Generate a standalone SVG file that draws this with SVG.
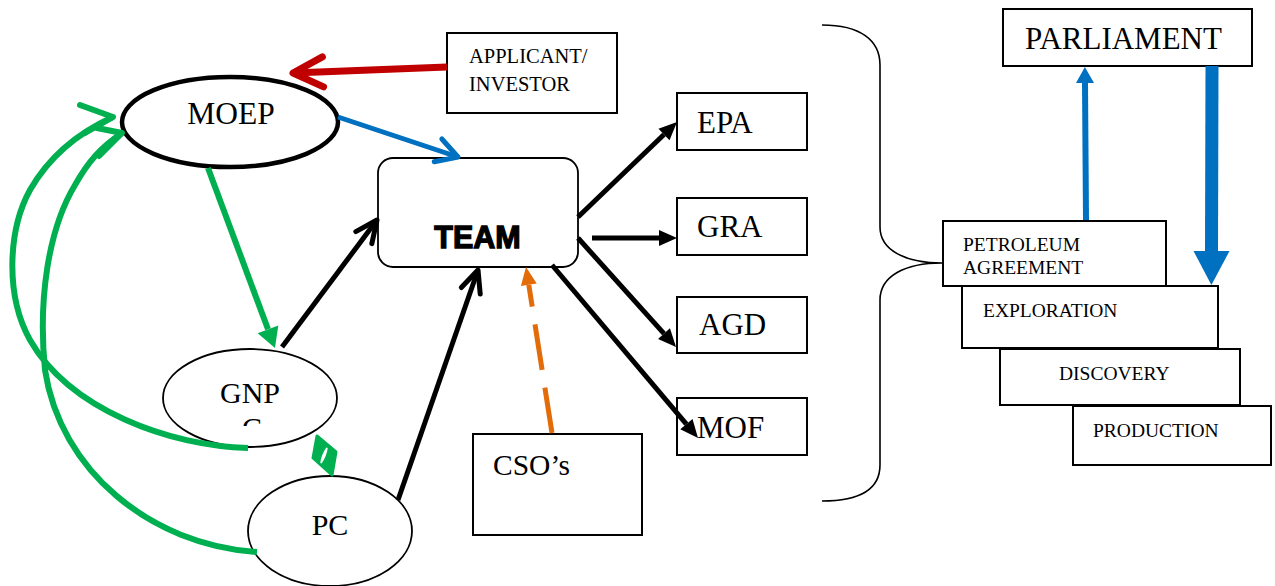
<svg xmlns="http://www.w3.org/2000/svg" width="1275" height="586" viewBox="0 0 1275 586">
<style>
.serif{font-family:"Liberation Serif","Times New Roman",serif;fill:#000}
.box{fill:#fff;stroke:#000;stroke-width:2}
.ell{fill:#fff;stroke:#000;stroke-width:1.8}
.blk{fill:none;stroke:#000;stroke-width:5}
.grn{fill:none;stroke:#00B050;stroke-width:6}
</style>
<defs>
<marker id="chevBlack" markerUnits="userSpaceOnUse" markerWidth="1" markerHeight="1" orient="auto" overflow="visible">
<path d="M-22,-10 L0,0 L-22,10" fill="none" stroke="#000" stroke-width="5" stroke-linecap="round" stroke-linejoin="round"/>
</marker>
<marker id="chevRed" markerUnits="userSpaceOnUse" markerWidth="1" markerHeight="1" orient="auto" overflow="visible">
<path d="M-30,-15 L0,0 L-30,15" fill="none" stroke="#C00000" stroke-width="7" stroke-linecap="round" stroke-linejoin="round"/>
</marker>
<marker id="chevBlue" markerUnits="userSpaceOnUse" markerWidth="1" markerHeight="1" orient="auto" overflow="visible">
<path d="M-21,-12 L0,0 L-21,12" fill="none" stroke="#0070C0" stroke-width="5" stroke-linecap="round" stroke-linejoin="round"/>
</marker>
<marker id="triBlack" markerUnits="userSpaceOnUse" markerWidth="1" markerHeight="1" orient="auto" overflow="visible">
<path d="M0,-8 L18,0 L0,8 Z" fill="#000"/>
</marker>
<marker id="triOrange" markerUnits="userSpaceOnUse" markerWidth="1" markerHeight="1" orient="auto" overflow="visible">
<path d="M0,-8 L18,0 L0,8 Z" fill="#E36C0A"/>
</marker>
<marker id="triGreen" markerUnits="userSpaceOnUse" markerWidth="1" markerHeight="1" orient="auto" overflow="visible">
<path d="M0,-11 L20,0 L0,11 Z" fill="#00B050"/>
</marker>
<marker id="triBlueS" markerUnits="userSpaceOnUse" markerWidth="1" markerHeight="1" orient="auto" overflow="visible">
<path d="M0,-9 L16,0 L0,9 Z" fill="#0070C0"/>
</marker>
<marker id="triBlueL" markerUnits="userSpaceOnUse" markerWidth="1" markerHeight="1" orient="auto" overflow="visible">
<path d="M0,-18 L34,0 L0,18 Z" fill="#0070C0"/>
</marker>
<clipPath id="gnpcClip"><rect x="220" y="405" width="60" height="21"/></clipPath>
</defs>

<g id="moep">
<ellipse cx="230" cy="122" rx="108" ry="45" fill="#fff" stroke="#000" stroke-width="4.5"/>
<text class="serif" x="231" y="124" font-size="31.5" text-anchor="middle">MOEP</text>
</g>
<g id="applicant">
<rect class="box" x="447" y="33" width="170" height="80"/>
<text class="serif" x="469" y="63" font-size="20.5">APPLICANT/</text>
<text class="serif" x="469" y="91" font-size="20.5">INVESTOR</text>
</g>
<g id="team">
<rect x="378" y="158" width="200" height="109" rx="15" ry="15" fill="#fff" stroke="#000" stroke-width="1.8"/>
<text x="477.5" y="248" font-family="'Liberation Sans',Arial,sans-serif" font-weight="bold" font-size="30.5" text-anchor="middle" stroke="#000" stroke-width="1.3">TEAM</text>
</g>
<g id="epa">
<rect class="box" x="677" y="93" width="130" height="57"/>
<text class="serif" x="697" y="133" font-size="31">EPA</text>
</g>
<g id="gra">
<rect class="box" x="677" y="198" width="130" height="57"/>
<text class="serif" x="697" y="237" font-size="31">GRA</text>
</g>
<g id="agd">
<rect class="box" x="677" y="297" width="130" height="56"/>
<text class="serif" x="699" y="335" font-size="31">AGD</text>
</g>
<g id="mof">
<rect class="box" x="677" y="398" width="130" height="57"/>
<text class="serif" x="697" y="438" font-size="31">MOF</text>
</g>
<g id="cso">
<rect class="box" x="473" y="434" width="169" height="101"/>
<text class="serif" x="493" y="475" font-size="29.5">CSO’s</text>
</g>
<g id="gnpc">
<ellipse class="ell" cx="250" cy="398" rx="87" ry="49"/>
<text class="serif" x="250" y="403" font-size="30" text-anchor="middle">GNP</text>
<text class="serif" x="252" y="438" font-size="30" text-anchor="middle" clip-path="url(#gnpcClip)">C</text>
</g>
<g id="pc">
<ellipse class="ell" cx="330" cy="531" rx="82" ry="55"/>
<text class="serif" x="330" y="535" font-size="30" text-anchor="middle">PC</text>
</g>
<g id="parliament">
<rect class="box" x="1003" y="9" width="249" height="57"/>
<text class="serif" x="1025" y="49" font-size="31">PARLIAMENT</text>
</g>
<g id="petroleum">
<rect class="box" x="943" y="221" width="223" height="65"/>
<text class="serif" x="963" y="251" font-size="19.5">PETROLEUM</text>
<text class="serif" x="963" y="274" font-size="19.5">AGREEMENT</text>
</g>
<g id="exploration">
<rect class="box" x="962" y="286" width="256" height="62"/>
<text class="serif" x="983" y="317" font-size="19.5">EXPLORATION</text>
</g>
<g id="discovery">
<rect class="box" x="1000" y="349" width="240" height="56"/>
<text class="serif" x="1059" y="380" font-size="19.5">DISCOVERY</text>
</g>
<g id="production">
<rect class="box" x="1073" y="406" width="198" height="59"/>
<text class="serif" x="1093" y="437" font-size="19.5">PRODUCTION</text>
</g>

<g id="connectors">
<path d="M447,67 L293,73" fill="none" stroke="#C00000" stroke-width="7" marker-end="url(#chevRed)"/>
<path d="M338,117 L458,157" fill="none" stroke="#0070C0" stroke-width="5" marker-end="url(#chevBlue)"/>
<path class="blk" d="M282,347 L377,220" marker-end="url(#chevBlack)"/>
<path class="blk" d="M398,500 L478,270" marker-end="url(#chevBlack)"/>
<path d="M552,433 L528.8,284.8" fill="none" stroke="#E36C0A" stroke-width="5" stroke-dasharray="46 18" marker-end="url(#triOrange)"/>
<path class="blk" d="M578,217 L664,134.5" marker-end="url(#triBlack)"/>
<path class="blk" d="M592,238 L659,238" marker-end="url(#triBlack)"/>
<path class="blk" d="M578,238 L664,333.6" marker-end="url(#triBlack)"/>
<path class="blk" d="M552,265 L686.4,424.2" marker-end="url(#triBlack)"/>
<path class="grn" d="M208,168 L268,329.3" marker-end="url(#triGreen)"/>
<path class="grn" d="M248,448 C170,446 70,410 30,340 C5,295 8,230 30,190 C50,155 80,132 113,117"/>
<path class="grn" d="M80,105 L113,117 L85,133" stroke-linecap="round" stroke-linejoin="round"/>
<path class="grn" d="M257,552 C150,545 60,470 45,370 C38,300 48,230 75,185 C88,162 100,148 122,133"/>
<path class="grn" d="M97,128 L122,133 L99,156" stroke-linecap="round" stroke-linejoin="round"/>
<path d="M317,436 L336,452 L332,475 L313,458 Z" fill="#00B050" stroke="#00B050" stroke-width="3" stroke-linejoin="round"/>
<path d="M327,448 Q322,455 321,463 Q326,456 327,448 Z" fill="#fff" stroke="#fff" stroke-width="1.5"/>
<path d="M1086,220 L1085,83" fill="none" stroke="#0070C0" stroke-width="6" marker-end="url(#triBlueS)"/>
<path d="M1212,66 L1211.5,251" fill="none" stroke="#0070C0" stroke-width="13" marker-end="url(#triBlueL)"/>
<path d="M822,25 C860,25 880,40 880,65 L880,227 C880,250 905,263 942,263 C905,263 880,276 880,300 L880,465 C880,490 860,501 822,501" fill="none" stroke="#000" stroke-width="1.6"/>
</g>
</svg>
